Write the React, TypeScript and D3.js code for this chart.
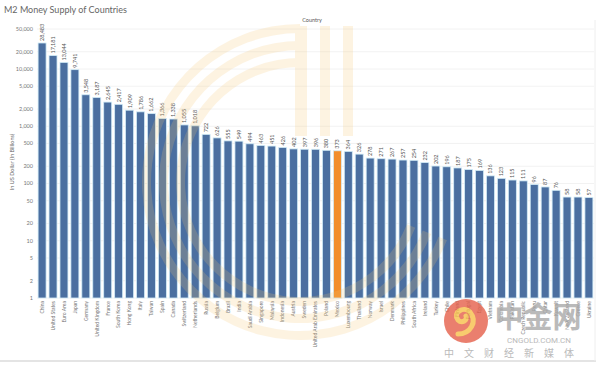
import * as d3 from 'd3'
import React from 'react'

const countries = [
    'China', 'United States', 'Euro Area', 'Japan', 'Germany', 'United Kingdom', 'France',
    'South Korea', 'Hong Kong', 'Italy', 'Taiwan', 'Spain', 'Canada', 'Switzerland',
    'Netherlands', 'Russia', 'Belgium', 'Brazil', 'India', 'Saudi Arabia', 'Singapore',
    'Malaysia', 'Indonesia', 'Austria', 'Sweden', 'United Arab Emirates', 'Poland', 'Mexico',
    'Luxembourg', 'Thailand', 'Norway', 'Israel', 'Denmark', 'Philippines', 'South Africa',
    'Ireland', 'Turkey', 'Chile', 'Finland', 'Portugal', 'Egypt', 'Vietnam', 'Colombia',
    'Pakistan', 'Czech Republic', 'Peru', 'Qatar', 'Kuwait', 'New Zealand', 'Greece', 'Ukraine',
]

// M2, US dollar billions
const m2Values = [
    28483, 17181, 13044, 9741, 3548, 3187, 2645, 2417, 1909, 1786, 1662, 1366, 1338, 1055,
    1018, 722, 626, 555, 549, 494, 463, 451, 426, 402, 397, 396, 380, 373,
    364, 326, 278, 271, 267, 257, 254, 232, 202, 196, 187, 175, 169, 136, 123, 115, 111,
    96, 87, 76, 58, 58, 57,
]

const highlighted = ['Mexico']

const yTicks = [1, 2, 5, 10, 20, 50, 100, 200, 500, 1000, 2000, 5000, 10000, 20000, 50000]

const W = 600
const H = 370
const margin = { top: 29, right: 6, bottom: 72, left: 37 }
const baseY = H - margin.bottom // 298

export default function App() {
    const svgRef = React.useRef<SVGSVGElement | null>(null)

    React.useEffect(() => {
        const svg = d3.select(svgRef.current)
        svg.selectAll('*').remove()

        const font = 'Lato, "Open Sans", sans-serif'
        const data = countries.map((c, i) => ({ name: c, value: m2Values[i] }))

        const x = d3
            .scaleBand<string>()
            .domain(countries)
            .range([margin.left, W - margin.right])
            .paddingInner(0.27)
            .paddingOuter(0.1)

        const y = d3.scaleLog().domain([1, 50000]).range([baseY, margin.top])
        const fmt = d3.format(',')

        // title
        svg.append('text')
            .attr('x', 4)
            .attr('y', 13)
            .attr('font-family', font)
            .attr('font-size', 9)
            .attr('fill', '#666')
            .text('M2 Money Supply of Countries')

        svg.append('text')
            .attr('x', 312)
            .attr('y', 22)
            .attr('text-anchor', 'middle')
            .attr('font-family', font)
            .attr('font-size', 5.5)
            .attr('fill', '#555')
            .text('Country')

        // gridlines + y ticks
        svg.append('g')
            .selectAll('line')
            .data(yTicks)
            .join('line')
            .attr('x1', margin.left)
            .attr('x2', W - margin.right)
            .attr('y1', (d) => y(d))
            .attr('y2', (d) => y(d))
            .attr('stroke', '#efefef')
            .attr('stroke-width', 0.8)

        svg.append('g')
            .selectAll('text')
            .data(yTicks)
            .join('text')
            .attr('x', 33)
            .attr('y', (d) => y(d))
            .attr('dy', '0.35em')
            .attr('text-anchor', 'end')
            .attr('font-family', font)
            .attr('font-size', 5.5)
            .attr('fill', '#777')
            .text((d) => fmt(d))

        svg.append('text')
            .attr('transform', `translate(14,162) rotate(-90)`)
            .attr('text-anchor', 'middle')
            .attr('font-family', font)
            .attr('font-size', 5.5)
            .attr('fill', '#666')
            .text('In US Dollar (In Billions)')

        // bars
        svg.append('g')
            .selectAll('rect')
            .data(data)
            .join('rect')
            .attr('x', (d) => x(d.name) || 0)
            .attr('y', (d) => y(d.value))
            .attr('width', x.bandwidth())
            .attr('height', (d) => baseY - y(d.value))
            .attr('fill', (d) => (highlighted.includes(d.name) ? '#f28e2b' : '#4b6fa0'))
            .attr('stroke', '#d2ecf7')
            .attr('stroke-width', 0.8)

        // value labels (inside the bar when there is no room above)
        svg.append('g')
            .selectAll('text')
            .data(data)
            .join('text')
            .each(function (d) {
                const cx = (x(d.name) || 0) + x.bandwidth() / 2
                const top = y(d.value)
                const inside = top - 17 < margin.top - 8
                d3.select(this)
                    .attr('transform', `translate(${cx + 2},${inside ? top + 2 : top - 2}) rotate(-90)`)
                    .attr('text-anchor', inside ? 'end' : 'start')
                    .attr('fill', inside ? '#fff' : '#555')
            })
            .attr('font-family', font)
            .attr('font-size', 5.5)
            .text((d) => fmt(d.value))

        // category labels
        svg.append('g')
            .selectAll('text')
            .data(countries)
            .join('text')
            .attr('transform', (d) => `translate(${(x(d) || 0) + x.bandwidth() / 2 + 1.8},${baseY + 3}) rotate(-90)`)
            .attr('text-anchor', 'end')
            .attr('font-family', font)
            .attr('font-size', 5)
            .attr('fill', '#777')
            .text((d) => d)

        // frame
        svg.append('line')
            .attr('x1', 0).attr('x2', W - 4)
            .attr('y1', 361).attr('y2', 361)
            .attr('stroke', '#e4e4e4').attr('stroke-width', 2)
        svg.append('line')
            .attr('x1', W - 5).attr('x2', W - 5)
            .attr('y1', 20).attr('y2', 361)
            .attr('stroke', '#eeeeee').attr('stroke-width', 1)

        // faded watermark
        const wm = svg.append('g').attr('opacity', 0.2).attr('fill', '#f6c66f')
        const ringArc = d3.arc<number>()
            .innerRadius((r) => r - 9)
            .outerRadius((r) => r)
            .startAngle(Math.PI * 0.62)
            .endAngle(Math.PI * 2)
        wm.selectAll('path')
            .data([158, 141, 124])
            .join('path')
            .attr('transform', 'translate(300,182)')
            .attr('d', (r) => ringArc(r))
        wm.selectAll('rect')
            .data([[295, 12], [320, 10], [343, 10]])
            .join('rect')
            .attr('x', (d) => d[0])
            .attr('width', (d) => d[1])
            .attr('y', 26)
            .attr('height', 110)

        const logo = svg.append('g').attr('opacity', 0.8)
        logo.append('circle').attr('cx', 466).attr('cy', 321).attr('r', 22).attr('fill', '#e5604a')
        logo.append('path')
            .attr('d', 'M458,334 C470,334 478,322 470,312 C464,306 452,312 458,320 C462,324 468,320 466,316')
            .attr('fill', 'none')
            .attr('stroke', '#f7c04a')
            .attr('stroke-width', 5)
            .attr('stroke-linecap', 'round')
        logo.append('text')
            .attr('x', 538).attr('y', 328)
            .attr('text-anchor', 'middle')
            .attr('font-family', '"Noto Sans CJK SC", sans-serif')
            .attr('font-size', 29)
            .attr('font-weight', 700)
            .attr('fill', '#a9a9a9')
            .text('中金网')
        logo.append('text')
            .attr('x', 539).attr('y', 343)
            .attr('text-anchor', 'middle')
            .attr('font-family', 'Roboto, sans-serif')
            .attr('font-size', 8)
            .attr('fill', '#a9a9a9')
            .text('CNGOLD.COM.CN')
        logo.append('text')
            .attr('x', 514).attr('y', 357)
            .attr('text-anchor', 'middle')
            .attr('font-family', '"Noto Sans CJK SC", sans-serif')
            .attr('font-size', 10)
            .attr('letter-spacing', 10)
            .attr('fill', '#aaaaaa')
            .text('中文财经新媒体')
    }, [])

    return (
        <svg
            ref={svgRef}
            width={W}
            height={H}
            style={{ position: 'absolute', left: 0, top: 0, background: '#fff' }}
        ></svg>
    )
}
